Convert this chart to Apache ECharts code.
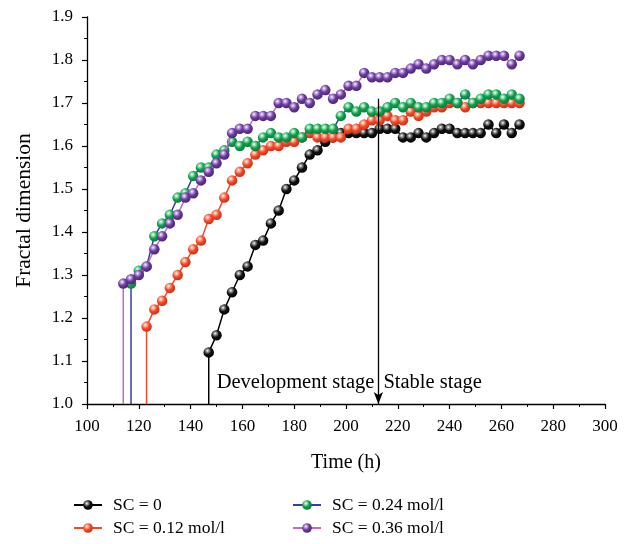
<!DOCTYPE html>
<html>
<head>
<meta charset="utf-8">
<script src="https://cdn.jsdelivr.net/npm/echarts@6/dist/echarts.min.js"></script>
<style>html,body{margin:0;padding:0;background:#fff}#c{width:624px;height:544px}</style>
</head>
<body>
<div id="c"></div>
<script>
// Time (h) sampling points
const hours = [114,117,120,123,126,129,132,135,138,141,144,147,150,153,156,159,162,165,168,171,174,177,180,183,186,189,192,195,198,201,204,207,210,213,216,219,222,225,228,231,234,237,240,243,246,249,252,255,258,261,264,267];
// Fractal dimension, aligned with hours (null = no measurement)
const sc0 = [null,null,null,null,null,null,null,null,null,null,null,
  1.12,1.16,1.22,1.26,1.30,1.32,1.37,1.38,1.42,1.45,1.50,1.52,1.55,1.58,1.59,1.61,1.62,1.63,1.63,1.63,1.63,1.63,1.64,1.64,1.64,1.62,1.62,1.63,1.62,1.63,1.64,1.64,1.63,1.63,1.63,1.63,1.65,1.63,1.65,1.63,1.65];
const sc012 = [null,null,null,
  1.18,1.22,1.24,1.27,1.30,1.33,1.36,1.38,1.43,1.44,1.48,1.52,1.54,1.56,1.58,1.59,1.60,1.60,1.61,1.61,1.62,1.63,1.62,1.62,1.62,1.62,1.64,1.64,1.65,1.66,1.66,1.67,1.66,1.66,1.68,1.67,1.68,1.69,1.69,1.70,1.70,1.69,1.70,1.70,1.70,1.70,1.70,1.70,1.70];
const sc024 = [null,
  1.28,1.31,1.32,1.39,1.42,1.44,1.48,1.49,1.53,1.55,1.55,1.58,1.59,1.61,1.60,1.61,1.60,1.62,1.63,1.62,1.62,1.63,1.62,1.64,1.64,1.64,1.64,1.67,1.69,1.68,1.69,1.68,1.68,1.69,1.70,1.69,1.70,1.69,1.69,1.70,1.70,1.71,1.70,1.72,1.70,1.71,1.72,1.72,1.71,1.72,1.71];
const sc036 = [1.28,1.29,1.30,1.32,1.36,1.39,1.42,1.44,1.48,1.49,1.52,1.54,1.56,1.58,1.63,1.64,1.64,1.67,1.67,1.67,1.70,1.70,1.69,1.71,1.70,1.72,1.73,1.71,1.72,1.74,1.74,1.77,1.76,1.76,1.76,1.77,1.77,1.78,1.79,1.78,1.79,1.80,1.80,1.79,1.80,1.79,1.80,1.81,1.81,1.81,1.79,1.81];
const seriesNames = ['SC = 0','SC = 0.12 mol/l','SC = 0.24 mol/l','SC = 0.36 mol/l'];
const baseValue = 1.0;           // curves rise from the axis floor
const stageBoundary = 212.5;     // h, development / stable boundary
const arrowTop = 1.71;
const xTicks = {min:100, max:300, interval:20};
const yTicks = {min:1.0, max:1.9, interval:0.1};

const FONT = '"Liberation Serif","DejaVu Serif",serif';
const styles = [
  {marker:['#9a9a9a','#111111','#000000'], line:'#000000'},
  {marker:['#ffb59a','#f2492a','#c42a12'], line:'#f04a2a'},
  {marker:['#9fe3b8','#10a050','#077536'], line:'#3a3aa6'},
  {marker:['#c7a6e6','#6a3c9e','#48206f'], line:'#c46cbc'}
];
function ball(c){
  return {type:'radial', x:0.38, y:0.34, r:0.72, colorStops:[
    {offset:0, color:'#ffffff'},{offset:0.18, color:c[0]},{offset:0.5, color:c[1]},{offset:1, color:c[2]}]};
}
function build(vals){
  const pts = [];
  hours.forEach((h,i)=>{ if(vals[i]!=null) pts.push([h, vals[i]]); });
  pts.unshift({value:[pts[0][0], baseValue], symbolSize:0});
  return pts;
}
const all = [sc0, sc012, sc024, sc036];
const series = all.map((v,k)=>({
  name: seriesNames[k], type:'line', data: build(v),
  symbol:'circle', symbolSize:10.5, showSymbol:true,
  itemStyle:{color: ball(styles[k].marker)},
  lineStyle:{color: styles[k].line, width:1.5},
  z: 2+k, animation:false
}));
series[0].markLine = {
  silent:true, symbol:['none','arrow'], symbolSize:[7,12], animation:false,
  lineStyle:{color:'#000', width:1.3, type:'solid'}, label:{show:false},
  data:[[{coord:[stageBoundary, arrowTop]},{coord:[stageBoundary, baseValue]}]]
};

const chart = echarts.init(document.getElementById('c'), null, {renderer:'canvas'});
const axisCommon = {
  axisLine:{show:true, lineStyle:{color:'#000', width:1.3}},
  axisTick:{show:true, inside:false, length:5, lineStyle:{color:'#000', width:1.2}},
  minorTick:{show:true, splitNumber:2, length:3, lineStyle:{color:'#000', width:1}},
  splitLine:{show:false},
  axisLabel:{color:'#000', fontFamily:FONT, fontSize:17},
  nameTextStyle:{color:'#000', fontFamily:FONT, fontSize:20}
};
const legendText = {fontFamily:FONT, fontSize:17.5, color:'#000', padding:[0,0,0,6]};
const legendCommon = {orient:'vertical', padding:0, itemWidth:28, itemHeight:12, itemGap:5,
  width:220, height:50, textStyle:legendText};
chart.setOption({
  backgroundColor:'#fff',
  animation:false,
  grid:{left:87, top:17, width:518, height:387, containLabel:false},
  xAxis:Object.assign({}, axisCommon, {type:'value', min:xTicks.min, max:xTicks.max, interval:xTicks.interval,
    name:'Time (h)', nameLocation:'middle', nameGap:49,
    axisLabel:Object.assign({}, axisCommon.axisLabel, {margin:14})}),
  yAxis:Object.assign({}, axisCommon, {type:'value', min:yTicks.min, max:yTicks.max, interval:yTicks.interval,
    name:'Fractal dimension', nameLocation:'middle', nameGap:52,
    nameTextStyle:{color:'#000', fontFamily:FONT, fontSize:21.5},
    axisLabel:Object.assign({}, axisCommon.axisLabel, {margin:14, formatter:v=>v.toFixed(1)})}),
  legend:[
    Object.assign({}, legendCommon, {left:73, top:496, data:[seriesNames[0], seriesNames[1]]}),
    Object.assign({}, legendCommon, {left:292, top:496, data:[seriesNames[2], seriesNames[3]]})
  ],
  series: series
});
const p = chart.convertToPixel({gridIndex:0}, [stageBoundary, 1.05]);
chart.setOption({graphic:[
  {type:'text', x:p[0]-4, y:p[1], style:{text:'Development stage', font:'20.5px '+FONT, fill:'#000', textAlign:'right', textVerticalAlign:'middle'}},
  {type:'text', x:p[0]+5, y:p[1], style:{text:'Stable stage', font:'20.5px '+FONT, fill:'#000', textAlign:'left', textVerticalAlign:'middle'}}
]});
</script>
</body>
</html>
